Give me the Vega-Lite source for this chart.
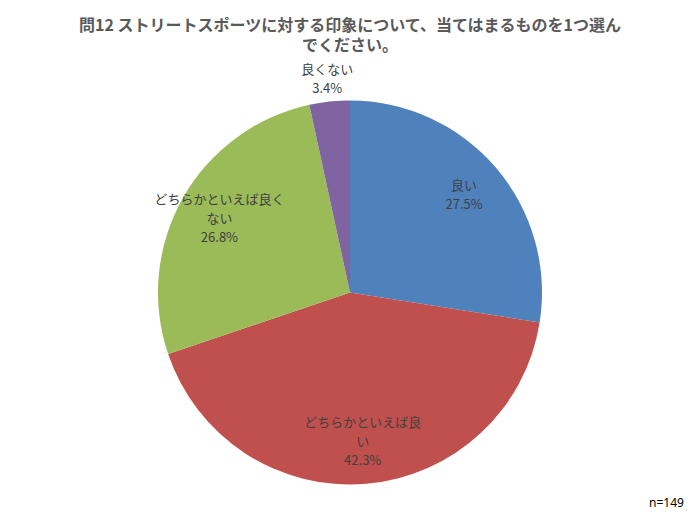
{
  "$schema": "https://vega.github.io/schema/vega-lite/v6.json",
  "width": 698,
  "height": 523,
  "autosize": {"type": "none"},
  "padding": 1,
  "background": "#ffffff",
  "title": {
    "text": ["問12 ストリートスポーツに対する印象について、当てはまるものを1つ選ん", "でください。"],
    "anchor": "middle",
    "offset": -53,
    "font": "Noto Sans CJK JP",
    "fontSize": 16,
    "fontWeight": "bold",
    "color": "#595959",
    "lineHeight": 20
  },
  "data": {
    "values": [
      {"order": 1, "category": "良い", "label": "良い", "percent": 27.5},
      {"order": 2, "category": "どちらかといえば良い", "label": "どちらかといえば良\nい", "percent": 42.3},
      {"order": 3, "category": "どちらかといえば良くない", "label": "どちらかといえば良く\nない", "percent": 26.8},
      {"order": 4, "category": "良くない", "label": "良くない", "percent": 3.4}
    ]
  },
  "layer": [
    {
      "mark": {"type": "arc", "radius": 192, "yOffset": 30},
      "encoding": {
        "theta": {"field": "percent", "type": "quantitative", "stack": true},
        "order": {"field": "order"},
        "color": {
          "field": "category",
          "type": "nominal",
          "legend": null,
          "scale": {
            "domain": ["良い", "どちらかといえば良い", "どちらかといえば良くない", "良くない"],
            "range": ["#4f81bd", "#c0504d", "#9bbb59", "#8064a2"]
          }
        }
      }
    },
    {
      "transform": [
        {"calculate": "datum.label + '\\n' + format(datum.percent, '.1f') + '%'", "as": "text"}
      ],
      "mark": {
        "type": "text",
        "radius": {"expr": "datum.percent < 5 ? 214 : 150"},
        "yOffset": {"expr": "30 - (length(split(datum.text, '\\n')) - 1) * 9.5"},
        "align": "center",
        "baseline": "middle",
        "lineBreak": "\n",
        "lineHeight": 19,
        "font": "Noto Sans CJK JP",
        "fontSize": 13,
        "color": "#404040"
      },
      "encoding": {
        "theta": {"field": "percent", "type": "quantitative", "stack": true},
        "order": {"field": "order"},
        "text": {"field": "text"}
      }
    },
    {
      "data": {"values": [{"note": "n=149"}]},
      "mark": {"type": "point", "opacity": 0},
      "encoding": {
        "shape": {
          "field": "note",
          "type": "nominal",
          "legend": {
            "title": null,
            "orient": "none",
            "legendX": 636,
            "legendY": 496,
            "padding": 0,
            "symbolSize": 0,
            "symbolOpacity": 0,
            "symbolStrokeWidth": 0,
            "labelOffset": 0,
            "labelFont": "Noto Sans",
            "labelFontSize": 12,
            "labelColor": "#000000"
          }
        }
      }
    }
  ],
  "config": {
    "view": {"stroke": "#d9d9d9", "strokeWidth": 1}
  }
}
